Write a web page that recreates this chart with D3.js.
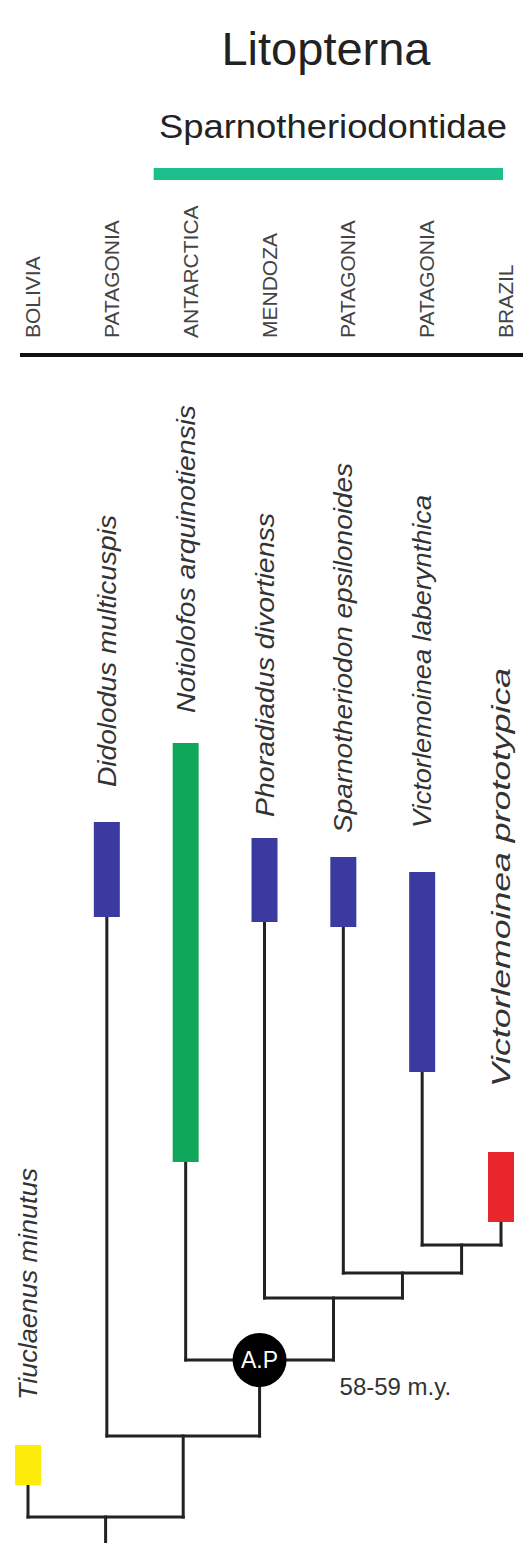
<!DOCTYPE html>
<html>
<head>
<meta charset="utf-8">
<script src="https://cdn.jsdelivr.net/npm/d3@7"></script>
<style>
  html, body { margin: 0; padding: 0; background: #fff; }
  svg { display: block; }
  text { font-family: "Liberation Sans", Arial, sans-serif; }
</style>
</head>
<body>
<script>
// ---------------- DATA ----------------
const title = "Litopterna";
const cladeTitle = "Sparnotheriodontidae";
const taxa = [
  "Tiuclaenus minutus",
  "Didolodus multicuspis",
  "Notiolofos arquinotiensis",
  "Phoradiadus divortienss",
  "Sparnotheriodon epsilonoides",
  "Victorlemoinea laberynthica",
  "Victorlemoinea prototypica"
];
const localities = ["BOLIVIA", "PATAGONIA", "ANTARCTICA", "MENDOZA", "PATAGONIA", "PATAGONIA", "BRAZIL"];
// temporal ranges (relative time units, 0 = top of scale)
const rangeTop    = [74.5, 12.2,  4.3, 13.8, 15.7, 17.2, 45.2];
const rangeBottom = [78.5, 21.7, 46.2, 22.2, 22.7, 37.2, 52.2];
const rangeGroup  = ["outgroup", "patagonia", "antarctica", "patagonia", "patagonia", "patagonia", "brazil"];
// tree topology
const cladeIds     = ["N6", "N5", "N4", "N3", "N2", "N1"];
const cladeParents = ["",   "N6", "N5", "N4", "N3", "N2"];
const cladeAges    = [81.7, 73.6, 66.0, 59.8, 57.3, 54.5];
const taxonParents = ["N6", "N5", "N4", "N3", "N2", "N1", "N1"];
const rootBase = 84.3;
const nodeLabel = { id: "N4", text: "A.P", note: "58-59 m.y." };
const cladeMembers = ["Notiolofos arquinotiensis", "Victorlemoinea prototypica"];

// ---------------- LAYOUT ----------------
const W = 523, H = 1543;
const labelGap    = [45, 35, 30, 21, 24, 44, 65];      // px between label end and bar top
const labelLength = [232, 272, 308, 304, 370, 333, 419]; // rendered length of species labels

const groupColor = d3.scaleOrdinal()
  .domain(["outgroup", "patagonia", "antarctica", "brazil"])
  .range(["#fdec0a", "#3b3aa0", "#0fa85a", "#e8262b"]);

const svg = d3.select("body").append("svg")
  .attr("width", W).attr("height", H);

const x = d3.scalePoint().domain(taxa).range([28, 501]);
const y = d3.scaleLinear().domain([0, rootBase]).range([700, H]);

// titles
svg.append("text")
  .attr("x", 326).attr("y", 65)
  .attr("text-anchor", "middle")
  .attr("font-size", 47)
  .attr("fill", "#222")
  .text(title);

svg.append("text")
  .attr("x", 333).attr("y", 138)
  .attr("text-anchor", "middle")
  .attr("font-size", 34)
  .attr("textLength", 348)
  .attr("lengthAdjust", "spacingAndGlyphs")
  .attr("fill", "#222")
  .text(cladeTitle);

svg.append("rect")
  .attr("x", x(cladeMembers[0]) - 32)
  .attr("width", x(cladeMembers[1]) + 2 - (x(cladeMembers[0]) - 32))
  .attr("y", 168).attr("height", 12)
  .attr("fill", "#1dbf8c");

// locality labels
svg.append("g").selectAll("text")
  .data(taxa)
  .join("text")
  .attr("transform", d => `translate(${x(d) + 12},338) rotate(-90)`)
  .attr("text-anchor", "start")
  .attr("font-size", 21)
  .attr("fill", "#444")
  .text((d, i) => localities[i]);

// header line
svg.append("line")
  .attr("x1", 20).attr("x2", W)
  .attr("y1", 355).attr("y2", 355)
  .attr("stroke", "#111").attr("stroke-width", 4);

// ---------------- TREE ----------------
const nodes = cladeIds.map((id, i) => ({ id, parent: cladeParents[i], age: cladeAges[i] }))
  .concat(taxa.map((t, i) => ({ id: t, parent: taxonParents[i], leaf: i })));
const root = d3.stratify().id(d => d.id).parentId(d => d.parent || null)(nodes);

root.eachAfter(n => {
  if (!n.children) {
    n.px = x(n.id);
    n.top = y(rangeBottom[n.data.leaf]);
  } else {
    const xs = n.children.map(c => c.px);
    n.minX = d3.min(xs); n.maxX = d3.max(xs);
    n.px = (n.minX + n.maxX) / 2;
    n.top = y(n.data.age);
  }
});

const lineColor = "#222", lw = 3;
const gTree = svg.append("g")
  .attr("stroke", lineColor).attr("stroke-width", lw)
  .attr("stroke-linecap", "square").attr("fill", "none");

// horizontal connectors
gTree.selectAll("line.h")
  .data(root.descendants().filter(n => n.children))
  .join("line").attr("class", "h")
  .attr("x1", n => n.minX).attr("x2", n => n.maxX)
  .attr("y1", n => n.top).attr("y2", n => n.top);

// vertical branches
gTree.selectAll("line.v")
  .data(root.descendants().filter(n => n.parent))
  .join("line").attr("class", "v")
  .attr("x1", n => n.px).attr("x2", n => n.px)
  .attr("y1", n => n.top).attr("y2", n => n.parent.top);

// root stem
gTree.append("line")
  .attr("x1", root.px).attr("x2", root.px)
  .attr("y1", root.top).attr("y2", y(rootBase));

// range bars
const barW = 26;
svg.append("g").selectAll("rect")
  .data(taxa)
  .join("rect")
  .attr("x", d => x(d) - barW / 2)
  .attr("width", barW)
  .attr("y", (d, i) => y(rangeTop[i]))
  .attr("height", (d, i) => y(rangeBottom[i]) - y(rangeTop[i]))
  .attr("fill", (d, i) => groupColor(rangeGroup[i]));

// species labels
svg.append("g").selectAll("text")
  .data(taxa)
  .join("text")
  .attr("transform", (d, i) => `translate(${x(d) + 9},${y(rangeTop[i]) - labelGap[i]}) rotate(-90)`)
  .attr("text-anchor", "start")
  .attr("font-size", 25)
  .attr("font-style", "italic")
  .attr("textLength", (d, i) => labelLength[i])
  .attr("lengthAdjust", "spacingAndGlyphs")
  .attr("fill", "#333")
  .text(d => d);

// node marker
const mk = root.descendants().find(n => n.id === nodeLabel.id);
svg.append("circle")
  .attr("cx", mk.px).attr("cy", mk.top).attr("r", 27)
  .attr("fill", "#000");
svg.append("text")
  .attr("x", mk.px).attr("y", mk.top + 8)
  .attr("text-anchor", "middle")
  .attr("font-size", 23)
  .attr("fill", "#fff")
  .text(nodeLabel.text);
svg.append("text")
  .attr("x", mk.px + 80).attr("y", mk.top + 35)
  .attr("font-size", 24)
  .attr("fill", "#333")
  .text(nodeLabel.note);
</script>
</body>
</html>
